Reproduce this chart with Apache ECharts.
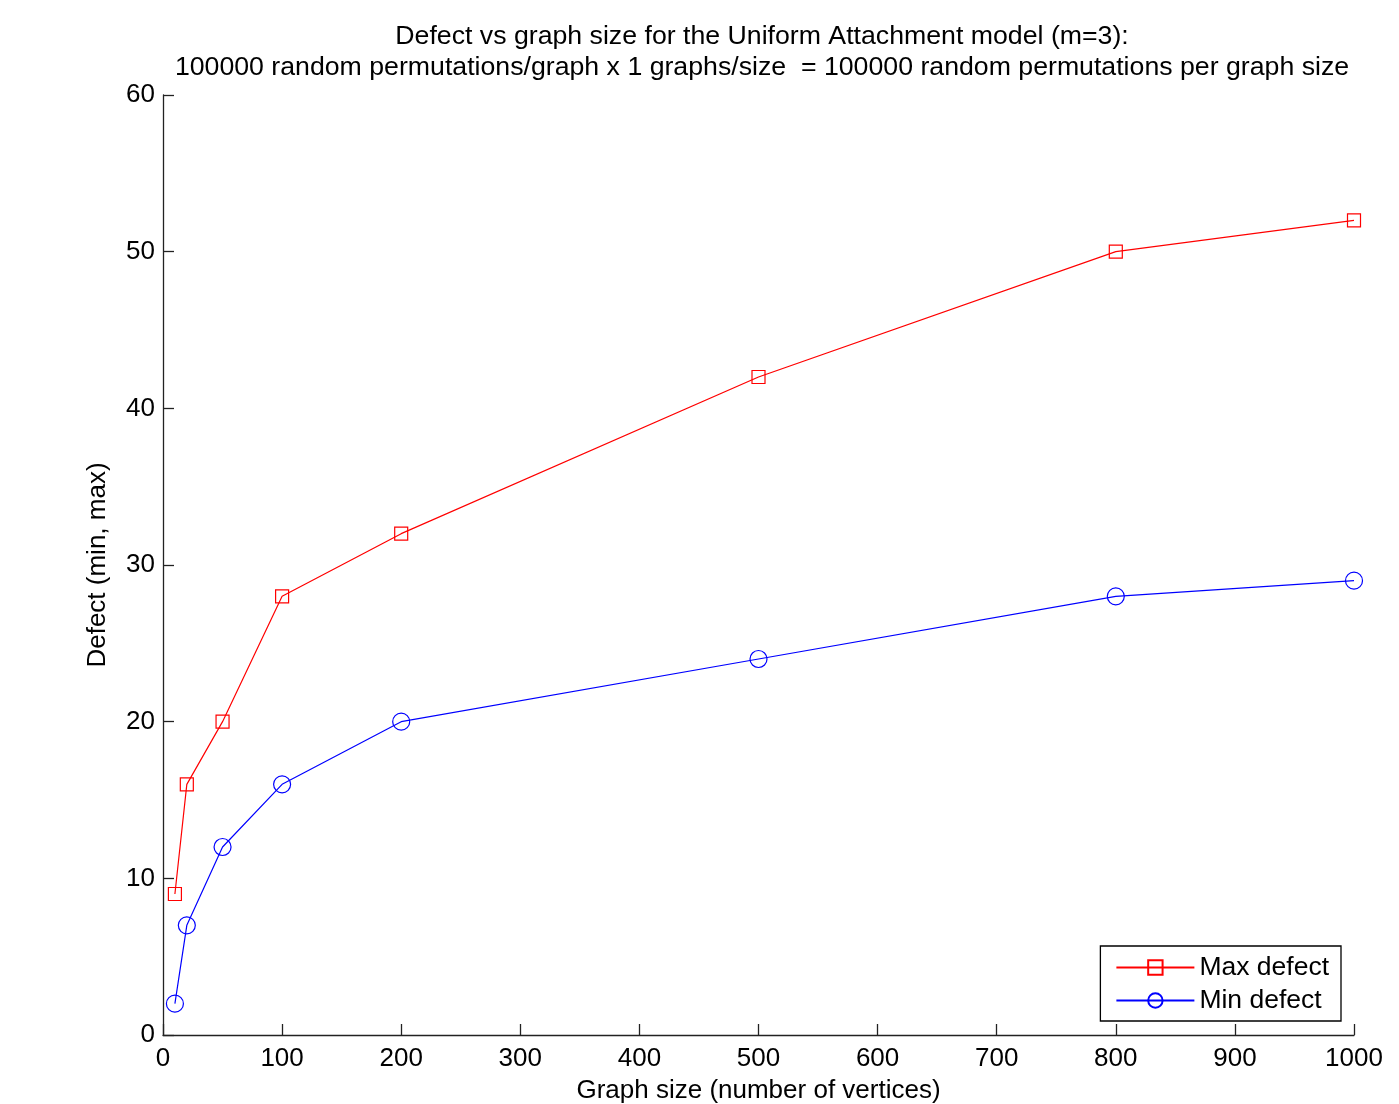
<!DOCTYPE html>
<html><head><meta charset="utf-8">
<script src="https://cdn.jsdelivr.net/npm/echarts@6/dist/echarts.min.js"></script>
<style>html,body{margin:0;padding:0;background:#fff}#c{width:1399px;height:1104px}</style>
</head><body><div id="c"></div>
<script>
const graphSizes = [10, 20, 50, 100, 200, 500, 800, 1000];
const maxDefect = [9, 16, 20, 28, 32, 42, 50, 52];
const minDefect = [2, 7, 12, 16, 20, 24, 28, 29];
const titleLines = ['Defect vs graph size for the Uniform Attachment model (m=3):',
  '100000 random permutations/graph x 1 graphs/size  = 100000 random permutations per graph size'];
const xName = 'Graph size (number of vertices)';
const yName = 'Defect (min, max)';

const FONT = 'Liberation Sans, Arial, Helvetica, sans-serif';
const chart = echarts.init(document.getElementById('c'), null, {renderer: 'canvas'});
const axisCommon = {
  axisLine: {show: true, lineStyle: {color: '#222', width: 1.3}},
  axisTick: {show: true, inside: true, length: 11, lineStyle: {color: '#222', width: 1.3}},
  axisLabel: {color: '#000', fontSize: 26, fontFamily: FONT, formatter: v => String(v)},
  splitLine: {show: false},
  nameTextStyle: {color: '#000', fontSize: 26, fontFamily: FONT}
};
chart.setOption({
  animation: false,
  backgroundColor: '#fff',
  title: {
    text: titleLines.join('\n'),
    left: 757, top: 16, textAlign: 'center',
    textStyle: {color: '#000', fontSize: 26.7, fontWeight: 'normal', fontFamily: FONT, lineHeight: 31}
  },
  grid: {left: 163, right: 45, top: 95, bottom: 69, containLabel: false, outerBoundsMode: 'none'},
  legend: {
    orient: 'vertical', right: 58, top: 946,
    backgroundColor: '#fff', borderColor: '#000', borderWidth: 1.3,
    padding: [8, 12, 7, 15], itemGap: 6, itemWidth: 78, itemHeight: 18,
    textStyle: {color: '#000', fontSize: 26.5, fontFamily: FONT},
    data: ['Max defect', 'Min defect']
  },
  xAxis: Object.assign({
    type: 'value', min: 0, max: 1000, interval: 100,
    name: xName, nameLocation: 'middle', nameGap: 43
  }, axisCommon, {axisLabel: Object.assign({}, axisCommon.axisLabel, {margin: 11})}),
  yAxis: Object.assign({
    type: 'value', min: 0, max: 60, interval: 10,
    name: yName, nameLocation: 'middle', nameGap: 52
  }, axisCommon, {axisLabel: Object.assign({}, axisCommon.axisLabel, {margin: 8})}),
  series: [
    {
      name: 'Max defect', type: 'line',
      data: graphSizes.map((x, i) => [x, maxDefect[i]]),
      symbol: 'rect', symbolSize: 13, showAllSymbol: true,
      lineStyle: {color: '#ff0000', width: 1.2},
      itemStyle: {color: 'rgba(255,255,255,0)', borderColor: '#ff0000', borderWidth: 1.2}
    },
    {
      name: 'Min defect', type: 'line',
      data: graphSizes.map((x, i) => [x, minDefect[i]]),
      symbol: 'circle', symbolSize: 17, showAllSymbol: true,
      lineStyle: {color: '#0000ff', width: 1.2},
      itemStyle: {color: 'rgba(255,255,255,0)', borderColor: '#0000ff', borderWidth: 1.2}
    }
  ]
});
</script></body></html>
